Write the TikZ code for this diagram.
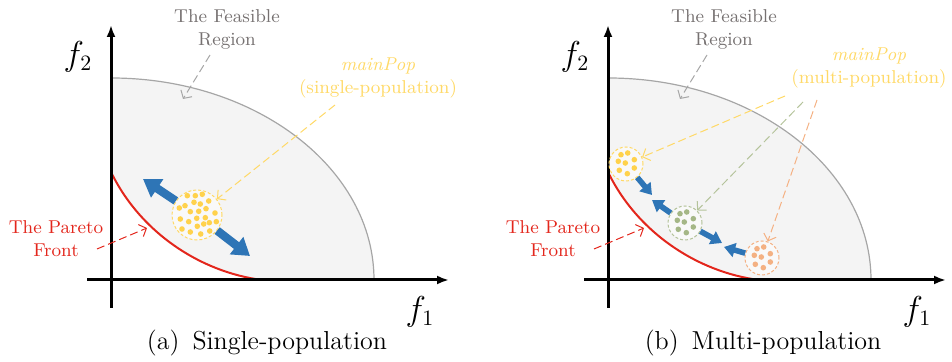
\documentclass[tikz,border=0pt]{standalone}
\usepackage{tikz}
\usetikzlibrary{arrows.meta}
\definecolor{regionFill}{HTML}{F4F4F4}
\definecolor{regionLine}{HTML}{A6A6A6}
\definecolor{regionText}{HTML}{767171}
\definecolor{paretoRed}{HTML}{E3261C}
\definecolor{popYellow}{HTML}{FFD966}
\definecolor{dotYellow}{HTML}{FFD24C}
\definecolor{popGreen}{HTML}{B4C39A}
\definecolor{dotGreen}{HTML}{A5B787}
\definecolor{popOrange}{HTML}{F4B183}
\definecolor{moveBlue}{HTML}{2E75B6}

\begin{document}
\begin{tikzpicture}[
  x=0.5pt,y=0.5pt,
  every node/.style={inner sep=0pt},
  note/.style={font=\fontsize{9.3}{11.5}\selectfont,align=center},
  axislabel/.style={font=\fontsize{16}{18}\selectfont},
  caption/.style={font=\fontsize{13}{15}\selectfont},
  axis/.style={line width=1.5pt,-{Latex[length=6pt,width=4.5pt]}},
  pointer/.style={line width=0.5pt,dash pattern=on 4pt off 2pt,
    -{Straight Barb[length=3pt,width=6.5pt]}},
  pop/.style={circle,draw,line width=0.5pt,dash pattern=on 1.5pt off 1pt,
    fill=white,fill opacity=0.5,text opacity=1},
  bigpop/.style={pop,minimum size=25pt},
  smallpop/.style={pop,minimum size=17pt},
  bigmove/.style={moveBlue,line width=4.2pt,-{Triangle[length=8.5pt,width=10.5pt]}},
  smallmove/.style={moveBlue,line width=2.8pt,-{Triangle[length=5.5pt,width=7pt]}}
]
  \useasboundingbox (0,0) rectangle (952,362);

  % shared axes, regions and labels of both panels
  \foreach \dx/\p in {0/a,497/b}{
    \begin{scope}[shift={(\dx,0)}]
      \fill[regionFill] (111,190) -- (111,284)
        arc[start angle=90,end angle=0,x radius=263,y radius=202]
        -- (262,82) .. controls (200,90) and (140,130) .. (111,190) -- cycle;
      \draw[regionLine,line width=0.6pt] (111,284)
        arc[start angle=90,end angle=0,x radius=263,y radius=202];
      \draw[paretoRed,line width=1pt] (111,190) .. controls (140,130) and (200,90) .. (262,82);

      \coordinate (xstart\p) at (87,82);
      \coordinate (xend\p) at (449,82);
      \coordinate (ystart\p) at (111,54);
      \coordinate (yend\p) at (111,337);
      \draw[axis] (xstart\p) -- (xend\p);
      \draw[axis] (ystart\p) -- (yend\p);
      \node[axislabel] (fone\p) at (420,50) {$f_1$};
      \node[axislabel] (ftwo\p) at (78,305) {$f_2$};

      \node[note,text=regionText] (feas\p) at (227,333) {The Feasible\\Region};
      \coordinate (feasTail\p) at (210,307);
      \coordinate (feasHead\p) at (183,263);
      \draw[pointer,regionLine] (feasTail\p) -- (feasHead\p);

      \node[note,text=paretoRed] (pareto\p) at (56,123) {The Pareto\\Front};
      \coordinate (paretoTail\p) at (97,113);
      \coordinate (paretoHead\p) at (147,134);
      \draw[pointer,paretoRed] (paretoTail\p) -- (paretoHead\p);
    \end{scope}
  }

  % (a) single population
  \node[note,text=popYellow] (mainA) at (378,284) {\textit{mainPop}\\(single-population)};
  \node[bigpop,draw=popYellow] (popA) at (197,147) {};
  \begin{scope}[shift={(197,147)}]
    \foreach \u/\v in {-9.7/19.3,-1.7/19.3,5.3/20.7,-12/9.3,-3/12.7,3.3/11,11.7/14,
      -17.7/7,-6.7/3.3,1.7/3.7,9/6.3,18/2,-16.7/-4,-8.3/-6.7,-0.3/-3.3,8.3/-2.7,
      19.3/-6.7,0.3/-11.3,6.7/-9,12.3/-7.7,-15/-14,-6.7/-17,3.7/-19,12.7/-16}
      \fill[dotYellow] (\u,\v) circle[radius=2.8];
  \end{scope}
  \coordinate (mainTailA) at (335,257);
  \draw[pointer,popYellow] (mainTailA) -- (popA);
  \coordinate (tipNW) at (143,183);
  \coordinate (tipSE) at (250,106);
  \draw[bigmove] (popA) -- (tipNW);
  \draw[bigmove] (popA) -- (tipSE);
  \node[caption] (capA) at (267,19) {(a)\enspace Single-population};

  % (b) multi population
  \node[note,text=popYellow] (mainB) at (869,294) {\textit{mainPop}\\(multi-population)};
  \node[smallpop,draw=popYellow] (popYel) at (626,198) {};
  \node[smallpop,draw=popGreen] (popGrn) at (685,139) {};
  \node[smallpop,draw=popOrange] (popOrg) at (762,104) {};
  \foreach \cx/\cy/\col in {626/198/dotYellow,685/139/dotGreen,762/104/popOrange}{
    \begin{scope}[shift={(\cx,\cy)}]
      \foreach \u/\v in {-5/9.3,1.7/11,-7.7/2.7,-0.7/1,8.3/4.3,-6.7/-6.3,1.3/-9.7,8.3/-4}
        \fill[\col] (\u,\v) circle[radius=2.8];
    \end{scope}
  }
  \coordinate (yelTail) at (785,266);
  \coordinate (grnTail) at (803,260);
  \coordinate (orgTail) at (817,262);
  \draw[pointer,popYellow] (yelTail) -- (popYel);
  \draw[pointer,popGreen] (grnTail) -- (popGrn);
  \draw[pointer,popOrange] (orgTail) -- (popOrg);

  \coordinate (tipYel) at (652,167);
  \coordinate (tipGrnUp) at (652,162);
  \coordinate (tipGrnDown) at (722,119);
  \coordinate (tipOrg) at (724,115);
  \draw[smallmove] (popYel) -- (tipYel);
  \draw[smallmove] (popGrn) -- (tipGrnUp);
  \draw[smallmove] (popGrn) -- (tipGrnDown);
  \draw[smallmove] (popOrg) -- (tipOrg);
  \node[caption] (capB) at (763,19) {(b)\enspace Multi-population};
\end{tikzpicture}
\end{document}
